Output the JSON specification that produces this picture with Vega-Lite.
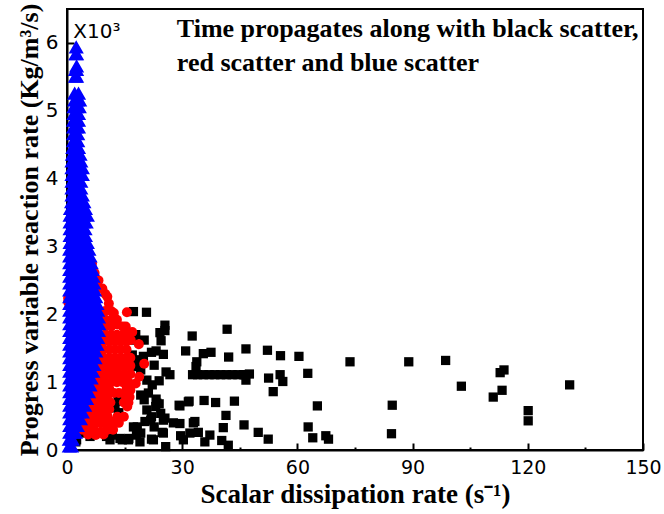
{
  "$schema": "https://vega.github.io/schema/vega-lite/v6.json",
  "width": 576,
  "height": 441,
  "autosize": {"type": "none"},
  "padding": {"left": 67, "top": 9, "right": 21, "bottom": 64},
  "background": "white",
  "config": {
    "view": {"stroke": "black", "strokeWidth": 2},
    "axis": {"grid": false, "domainColor": "black", "domainWidth": 2, "tickColor": "black", "tickWidth": 2, "labelColor": "black", "titleColor": "black", "labelFont": "DejaVu Sans", "labelFontSize": 20, "titleFont": "Liberation Serif", "titleFontWeight": "bold", "labelFlush": false, "labelOverlap": false}
  },
  "datasets": {
    "black": [
      {"x":46.6,"y":1.49},{"x":52.2,"y":1.47},{"x":55.6,"y":1.39},{"x":60.4,"y":1.38},{"x":73.7,"y":1.30},{"x":89.0,"y":1.30},{"x":98.6,"y":1.32},{"x":113.8,"y":1.18},{"x":112.8,"y":1.14},{"x":130.9,"y":0.96},{"x":102.7,"y":0.94},{"x":113.3,"y":0.88},{"x":111.0,"y":0.78},{"x":120.1,"y":0.58},{"x":120.1,"y":0.43},{"x":84.7,"y":0.66},{"x":84.5,"y":0.24},{"x":46.3,"y":1.11},{"x":46.6,"y":1.03},{"x":52.5,"y":1.06},{"x":55.5,"y":1.11},{"x":56.2,"y":1.01},{"x":53.7,"y":0.86},{"x":62.7,"y":1.13},{"x":65.2,"y":0.65},{"x":46.1,"y":0.37},{"x":49.8,"y":0.26},{"x":52.4,"y":0.16},{"x":62.8,"y":0.34},{"x":64.0,"y":0.18},{"x":67.4,"y":0.21},{"x":68.1,"y":0.16},
      {"x":25.5,"y":1.84},{"x":24.2,"y":1.73},{"x":25.5,"y":1.76},{"x":24.5,"y":1.61},{"x":32.6,"y":1.68},{"x":41.7,"y":1.78},{"x":23.2,"y":1.46},{"x":25.1,"y":1.41},{"x":30.9,"y":1.46},{"x":35.5,"y":1.42},{"x":37.5,"y":1.44},{"x":42.1,"y":1.37},{"x":22.7,"y":1.25},{"x":33.8,"y":1.30},{"x":33.6,"y":1.23},
      {"x":32.7,"y":1.11},{"x":34,"y":1.11},{"x":35.5,"y":1.11},{"x":37,"y":1.11},{"x":38.5,"y":1.11},{"x":40,"y":1.11},{"x":41.5,"y":1.11},{"x":43,"y":1.11},{"x":44.5,"y":1.11},{"x":46,"y":1.11},{"x":47.5,"y":1.12},
      {"x":25.8,"y":1.15},{"x":26.8,"y":1.11},{"x":24.0,"y":1.02},{"x":23.2,"y":0.75},{"x":24.0,"y":0.68},{"x":31.8,"y":0.72},{"x":29.4,"y":0.65},{"x":35.7,"y":0.73},{"x":38.7,"y":0.70},{"x":43.6,"y":0.72},{"x":22.0,"y":0.49},{"x":25.5,"y":0.47},{"x":27.7,"y":0.40},{"x":29.4,"y":0.39},{"x":33.3,"y":0.42},{"x":41.4,"y":0.51},{"x":24.8,"y":0.26},{"x":29.6,"y":0.21},{"x":34.2,"y":0.26},{"x":37.2,"y":0.22},{"x":40.7,"y":0.33},{"x":22.0,"y":0.16},{"x":25.7,"y":0.05},{"x":35.9,"y":0.12},{"x":40.3,"y":0.14},{"x":42.0,"y":0.07},
      {"x":20.7,"y":2.03},{"x":17.3,"y":2.04},{"x":20.1,"y":1.62},{"x":17.9,"y":1.70},{"x":17.4,"y":1.62},{"x":22.0,"y":1.44},{"x":17.0,"y":1.40},{"x":17.9,"y":1.33},{"x":19.9,"y":1.38},{"x":18.1,"y":1.23},{"x":19.2,"y":1.18},{"x":20.8,"y":1.03},{"x":22.2,"y":0.96},{"x":21.2,"y":0.84},{"x":19.2,"y":0.81},{"x":20.1,"y":0.74},{"x":23.4,"y":0.69},{"x":23.1,"y":0.64},{"x":20.8,"y":0.59},{"x":24.4,"y":0.54},{"x":21.8,"y":0.44},{"x":20.3,"y":0.42},{"x":22.7,"y":0.34},{"x":18.3,"y":0.34},{"x":17.3,"y":0.34},{"x":19.2,"y":0.25},{"x":18.1,"y":0.22},{"x":25.1,"y":0.44},{"x":25.1,"y":0.25},{"x":22.5,"y":0.15},{"x":19.0,"y":0.12},{"x":16.1,"y":0.17},{"x":14.4,"y":0.15},{"x":13.8,"y":0.17},{"x":11.8,"y":0.22},{"x":11.2,"y":0.15},{"x":10.3,"y":0.20},{"x":6.0,"y":0.20},{"x":3.4,"y":0.25},{"x":2.5,"y":0.15},{"x":2.3,"y":0.12},{"x":16.0,"y":0.15},{"x":30.3,"y":0.15},{"x":32.0,"y":0.25},{"x":29.2,"y":0.66},{"x":31.6,"y":0.71},{"x":32.9,"y":0.40},{"x":12.5,"y":0.62},{"x":13.3,"y":0.72},{"x":13.5,"y":0.55}
    ],
    "red": [
      {"x":5.3,"y":2.92},{"x":6.5,"y":2.75},{"x":7.2,"y":2.61},{"x":8.2,"y":2.5},{"x":9.2,"y":2.38},{"x":10.0,"y":2.30},{"x":10.5,"y":2.26},{"x":10.9,"y":2.16},{"x":0.3,"y":2.24},{"x":0.3,"y":2.18},
      {"x":8.5,"y":2.05},{"x":10,"y":2.05},{"x":11.5,"y":2.05},{"x":12.2,"y":2.02},{"x":15.6,"y":2.03},
      {"x":8.5,"y":1.92},{"x":10,"y":1.92},{"x":11.5,"y":1.92},{"x":13,"y":1.92},
      {"x":8.5,"y":1.82},{"x":10,"y":1.82},{"x":11.5,"y":1.82},{"x":13.1,"y":1.85},{"x":14.5,"y":1.82},{"x":15.3,"y":1.82},
      {"x":8.5,"y":1.7},{"x":10,"y":1.7},{"x":11.5,"y":1.7},{"x":13,"y":1.7},{"x":14.5,"y":1.7},{"x":16,"y":1.7},{"x":17,"y":1.74},
      {"x":8,"y":1.6},{"x":9.5,"y":1.6},{"x":11,"y":1.6},{"x":12.5,"y":1.6},{"x":14,"y":1.6},{"x":15.5,"y":1.6},{"x":16.6,"y":1.62},
      {"x":18.7,"y":1.56},
      {"x":8,"y":1.48},{"x":9.5,"y":1.48},{"x":11,"y":1.48},{"x":12.5,"y":1.48},{"x":14,"y":1.48},{"x":15.5,"y":1.48},
      {"x":8,"y":1.36},{"x":9.5,"y":1.36},{"x":11,"y":1.36},{"x":12.5,"y":1.36},{"x":14,"y":1.36},{"x":15.5,"y":1.36},{"x":16.5,"y":1.36},
      {"x":20.1,"y":1.27},
      {"x":7.5,"y":1.24},{"x":9,"y":1.24},{"x":10.5,"y":1.24},{"x":12,"y":1.24},{"x":13.5,"y":1.24},{"x":15,"y":1.24},{"x":16.5,"y":1.24},
      {"x":7.5,"y":1.12},{"x":9,"y":1.12},{"x":10.5,"y":1.12},{"x":12,"y":1.12},{"x":13.5,"y":1.12},{"x":15,"y":1.12},{"x":16.5,"y":1.12},{"x":18.8,"y":1.08},
      {"x":7,"y":1.0},{"x":8.5,"y":1.0},{"x":10,"y":1.0},{"x":11.5,"y":1.0},{"x":13,"y":1.0},{"x":14.5,"y":1.0},{"x":16,"y":1.0},{"x":17.9,"y":0.98},
      {"x":6.5,"y":0.9},{"x":8,"y":0.9},{"x":9.5,"y":0.9},{"x":11,"y":0.9},{"x":15.5,"y":0.9},{"x":16.5,"y":0.88},
      {"x":6,"y":0.8},{"x":7.5,"y":0.8},{"x":9,"y":0.8},{"x":10.5,"y":0.8},{"x":12.2,"y":0.84},{"x":13.5,"y":0.84},{"x":15.3,"y":0.8},{"x":16.3,"y":0.78},
      {"x":5.5,"y":0.7},{"x":7,"y":0.7},{"x":8.5,"y":0.7},{"x":10,"y":0.7},{"x":11.3,"y":0.7},{"x":14.8,"y":0.7},{"x":16,"y":0.7},
      {"x":5,"y":0.6},{"x":6.5,"y":0.6},{"x":8,"y":0.6},{"x":9.5,"y":0.6},{"x":11,"y":0.6},{"x":15.7,"y":0.64},
      {"x":4.5,"y":0.5},{"x":6,"y":0.5},{"x":7.5,"y":0.5},{"x":9,"y":0.5},{"x":10.5,"y":0.5},{"x":13.1,"y":0.49},{"x":14.8,"y":0.49},
      {"x":3.5,"y":0.4},{"x":4.4,"y":0.39},{"x":6.2,"y":0.4},{"x":7.5,"y":0.4},{"x":9,"y":0.4},{"x":10.5,"y":0.39},{"x":12,"y":0.42},{"x":13.5,"y":0.4},
      {"x":4,"y":0.3},{"x":5.5,"y":0.3},{"x":7,"y":0.3},{"x":8.8,"y":0.27},{"x":10.5,"y":0.3},{"x":12,"y":0.3},
      {"x":5.5,"y":0.23},{"x":7.5,"y":0.22},{"x":9.5,"y":0.23}
    ],
    "blue": [
      {"x":0.6,"y":0.05},{"x":1.2,"y":0.05},
      {"x":0.6,"y":0.15},{"x":1.4,"y":0.15},
      {"x":0.7,"y":0.25},{"x":1.5,"y":0.25},{"x":2.2,"y":0.25},
      {"x":0.7,"y":0.35},{"x":1.7,"y":0.35},{"x":2.7,"y":0.35},
      {"x":0.7,"y":0.45},{"x":2.0,"y":0.45},{"x":3.5,"y":0.45},
      {"x":0.7,"y":0.55},{"x":2.0,"y":0.55},{"x":3.0,"y":0.55},{"x":4.0,"y":0.55},
      {"x":0.7,"y":0.65},{"x":2.0,"y":0.65},{"x":3.3,"y":0.65},{"x":4.6,"y":0.65},
      {"x":0.7,"y":0.75},{"x":2.0,"y":0.75},{"x":3.3,"y":0.75},{"x":5.1,"y":0.75},
      {"x":0.7,"y":0.85},{"x":2.0,"y":0.85},{"x":3.3,"y":0.85},{"x":4.5,"y":0.85},{"x":5.6,"y":0.85},
      {"x":0.7,"y":0.95},{"x":2.0,"y":0.95},{"x":3.3,"y":0.95},{"x":4.6,"y":0.95},{"x":6.0,"y":0.95},
      {"x":0.7,"y":1.05},{"x":2.0,"y":1.05},{"x":3.3,"y":1.05},{"x":4.6,"y":1.05},{"x":6.3,"y":1.05},
      {"x":0.7,"y":1.15},{"x":2.0,"y":1.15},{"x":3.3,"y":1.15},{"x":4.6,"y":1.15},{"x":5.8,"y":1.15},{"x":6.7,"y":1.15},
      {"x":0.7,"y":1.25},{"x":2.0,"y":1.25},{"x":3.3,"y":1.25},{"x":4.6,"y":1.25},{"x":5.9,"y":1.25},{"x":7.0,"y":1.25},
      {"x":0.7,"y":1.35},{"x":2.0,"y":1.35},{"x":3.3,"y":1.35},{"x":4.6,"y":1.35},{"x":5.9,"y":1.35},{"x":7.3,"y":1.35},
      {"x":0.7,"y":1.45},{"x":2.0,"y":1.45},{"x":3.3,"y":1.45},{"x":4.6,"y":1.45},{"x":5.9,"y":1.45},{"x":7.5,"y":1.45},
      {"x":0.7,"y":1.55},{"x":2.0,"y":1.55},{"x":3.3,"y":1.55},{"x":4.6,"y":1.55},{"x":5.9,"y":1.55},{"x":7.0,"y":1.55},{"x":7.8,"y":1.55},
      {"x":0.7,"y":1.65},{"x":2.0,"y":1.65},{"x":3.3,"y":1.65},{"x":4.6,"y":1.65},{"x":5.9,"y":1.65},{"x":7.0,"y":1.65},{"x":8.0,"y":1.65},
      {"x":0.7,"y":1.75},{"x":2.0,"y":1.75},{"x":3.3,"y":1.75},{"x":4.6,"y":1.75},{"x":5.9,"y":1.75},{"x":7.0,"y":1.75},{"x":8.2,"y":1.75},
      {"x":0.7,"y":1.85},{"x":2.0,"y":1.85},{"x":3.3,"y":1.85},{"x":4.6,"y":1.85},{"x":5.9,"y":1.85},{"x":7.0,"y":1.85},{"x":8.3,"y":1.85},
      {"x":0.7,"y":1.95},{"x":2.0,"y":1.95},{"x":3.3,"y":1.95},{"x":4.6,"y":1.95},{"x":5.9,"y":1.95},{"x":7.0,"y":1.95},{"x":8.2,"y":1.95},
      {"x":0.7,"y":2.05},{"x":2.0,"y":2.05},{"x":3.3,"y":2.05},{"x":4.6,"y":2.05},{"x":5.9,"y":2.05},{"x":7.0,"y":2.05},{"x":8.0,"y":2.05},
      {"x":0.7,"y":2.15},{"x":2.0,"y":2.15},{"x":3.3,"y":2.15},{"x":4.6,"y":2.15},{"x":5.9,"y":2.15},{"x":7.0,"y":2.15},{"x":7.8,"y":2.15},
      {"x":0.7,"y":2.25},{"x":2.0,"y":2.25},{"x":3.3,"y":2.25},{"x":4.6,"y":2.25},{"x":5.9,"y":2.25},{"x":7.5,"y":2.25},
      {"x":0.7,"y":2.35},{"x":2.0,"y":2.35},{"x":3.3,"y":2.35},{"x":4.6,"y":2.35},{"x":5.9,"y":2.35},{"x":7.2,"y":2.35},
      {"x":0.7,"y":2.45},{"x":2.0,"y":2.45},{"x":3.3,"y":2.45},{"x":4.6,"y":2.45},{"x":5.9,"y":2.45},{"x":7.0,"y":2.45},
      {"x":0.7,"y":2.55},{"x":2.0,"y":2.55},{"x":3.3,"y":2.55},{"x":4.6,"y":2.55},{"x":5.7,"y":2.55},{"x":6.8,"y":2.55},
      {"x":0.7,"y":2.65},{"x":2.0,"y":2.65},{"x":3.3,"y":2.65},{"x":4.6,"y":2.65},{"x":5.7,"y":2.65},{"x":6.6,"y":2.65},
      {"x":0.7,"y":2.75},{"x":2.0,"y":2.75},{"x":3.3,"y":2.75},{"x":4.6,"y":2.75},{"x":5.5,"y":2.75},{"x":6.3,"y":2.75},
      {"x":0.7,"y":2.85},{"x":2.0,"y":2.85},{"x":3.3,"y":2.85},{"x":4.6,"y":2.85},{"x":6.0,"y":2.85},
      {"x":0.7,"y":2.95},{"x":2.0,"y":2.95},{"x":3.3,"y":2.95},{"x":4.6,"y":2.95},{"x":5.7,"y":2.95},
      {"x":0.8,"y":3.05},{"x":2.0,"y":3.05},{"x":3.2,"y":3.05},{"x":4.3,"y":3.05},{"x":5.3,"y":3.05},
      {"x":0.8,"y":3.15},{"x":2.0,"y":3.15},{"x":3.2,"y":3.15},{"x":4.8,"y":3.15},
      {"x":0.8,"y":3.25},{"x":2.0,"y":3.25},{"x":3.2,"y":3.25},{"x":4.7,"y":3.25},
      {"x":0.8,"y":3.35},{"x":2.0,"y":3.35},{"x":3.2,"y":3.35},{"x":4.2,"y":3.35},{"x":5.0,"y":3.35},
      {"x":0.8,"y":3.45},{"x":2.0,"y":3.45},{"x":3.2,"y":3.45},{"x":4.3,"y":3.45},{"x":5.3,"y":3.45},
      {"x":0.9,"y":3.55},{"x":2.0,"y":3.55},{"x":3.2,"y":3.55},{"x":4.8,"y":3.55},
      {"x":1.2,"y":3.65},{"x":2.3,"y":3.65},{"x":3.4,"y":3.65},{"x":4.4,"y":3.65},
      {"x":1.3,"y":3.75},{"x":2.4,"y":3.75},{"x":4.0,"y":3.75},
      {"x":1.3,"y":3.85},{"x":2.4,"y":3.85},{"x":3.6,"y":3.85},
      {"x":1.3,"y":3.95},{"x":2.4,"y":3.95},{"x":3.6,"y":3.95},
      {"x":1.3,"y":4.05},{"x":2.4,"y":4.05},{"x":3.2,"y":4.05},{"x":4.0,"y":4.05},
      {"x":1.3,"y":4.15},{"x":2.4,"y":4.15},{"x":3.2,"y":4.15},{"x":4.0,"y":4.15},
      {"x":1.3,"y":4.25},{"x":2.4,"y":4.25},{"x":3.6,"y":4.25},
      {"x":1.4,"y":4.35},{"x":2.4,"y":4.35},{"x":3.4,"y":4.35},
      {"x":1.5,"y":4.45},{"x":2.3,"y":4.45},{"x":3.0,"y":4.45},
      {"x":1.7,"y":4.55},{"x":2.8,"y":4.55},
      {"x":1.7,"y":4.65},{"x":2.8,"y":4.65},
      {"x":1.7,"y":4.75},{"x":2.4,"y":4.75},{"x":3.0,"y":4.75},
      {"x":1.7,"y":4.85},{"x":2.4,"y":4.85},{"x":3.0,"y":4.85},
      {"x":1.8,"y":4.95},{"x":2.4,"y":4.95},{"x":3.0,"y":4.95},
      {"x":1.8,"y":5.05},{"x":2.5,"y":5.05},{"x":3.2,"y":5.05},
      {"x":2.0,"y":5.15},{"x":2.7,"y":5.15},{"x":3.3,"y":5.15},
      {"x":2.0,"y":5.25},{"x":3.0,"y":5.25},
      {"x":2.2,"y":5.5},{"x":2.5,"y":5.5},
      {"x":2.2,"y":5.6},{"x":2.5,"y":5.6},
      {"x":2.5,"y":5.65},
      {"x":2.3,"y":5.83},{"x":2.5,"y":5.83},
      {"x":2.4,"y":5.93}
    ],
    "notes": [
      {"x":28.6,"y":6.08,"t":"Time propagates along with black scatter,"},
      {"x":28.6,"y":5.59,"t":"red scatter and blue scatter"}
    ],
    "mult": [
      {"x":1.65,"y":6.07,"t":"X10³"}
    ]
  },
  "layer": [
    {
      "data": {"name": "black"},
      "mark": {"type": "point", "shape": "square", "filled": true, "color": "black", "size": 86, "opacity": 1},
      "encoding": {
        "x": {"field": "x", "type": "quantitative", "scale": {"domain": [0, 150], "nice": false},
          "axis": {"title": "Scalar dissipation rate (s⁻¹)", "values": [0,15,30,45,60,75,90,105,120,135,150], "labelExpr": "datum.value % 30 === 0 ? datum.label : ''", "tickSize": {"condition": {"test": "datum.value % 30 === 0", "value": -7}, "value": -3}, "labelPadding": 15, "labelFontSize": 19, "titleFontSize": 27, "titlePadding": 0}},
        "y": {"field": "y", "type": "quantitative", "scale": {"domain": [0, 6.5], "nice": false},
          "axis": {"title": "Progress variable reaction rate (Kg/m³/s)", "values": [0,0.5,1,1.5,2,2.5,3,3.5,4,4.5,5,5.5,6], "labelExpr": "datum.value % 1 === 0 ? format(datum.value, 'd') : ''", "tickSize": {"condition": {"test": "datum.value % 1 === 0", "value": -7}, "value": -3}, "labelPadding": 16, "titleFontSize": 26, "titlePadding": 3}}
      }
    },
    {
      "data": {"name": "red"},
      "mark": {"type": "point", "shape": "circle", "filled": true, "color": "#FF0000", "size": 100, "opacity": 1},
      "encoding": {
        "x": {"field": "x", "type": "quantitative"},
        "y": {"field": "y", "type": "quantitative"}
      }
    },
    {
      "data": {"name": "blue"},
      "mark": {"type": "point", "shape": "triangle-up", "filled": true, "fill": "#0000FF", "stroke": "#0000FF", "strokeWidth": 3, "size": 100, "opacity": 1},
      "encoding": {
        "x": {"field": "x", "type": "quantitative"},
        "y": {"field": "y", "type": "quantitative"}
      }
    },
    {
      "data": {"name": "notes"},
      "mark": {"type": "text", "align": "left", "baseline": "alphabetic", "font": "Liberation Serif", "fontWeight": "bold", "fontSize": 26, "color": "black"},
      "encoding": {
        "x": {"field": "x", "type": "quantitative"},
        "y": {"field": "y", "type": "quantitative"},
        "text": {"field": "t"}
      }
    },
    {
      "data": {"name": "mult"},
      "mark": {"type": "text", "align": "left", "baseline": "alphabetic", "font": "DejaVu Sans", "fontSize": 20, "color": "black"},
      "encoding": {
        "x": {"field": "x", "type": "quantitative"},
        "y": {"field": "y", "type": "quantitative"},
        "text": {"field": "t"}
      }
    }
  ]
}
